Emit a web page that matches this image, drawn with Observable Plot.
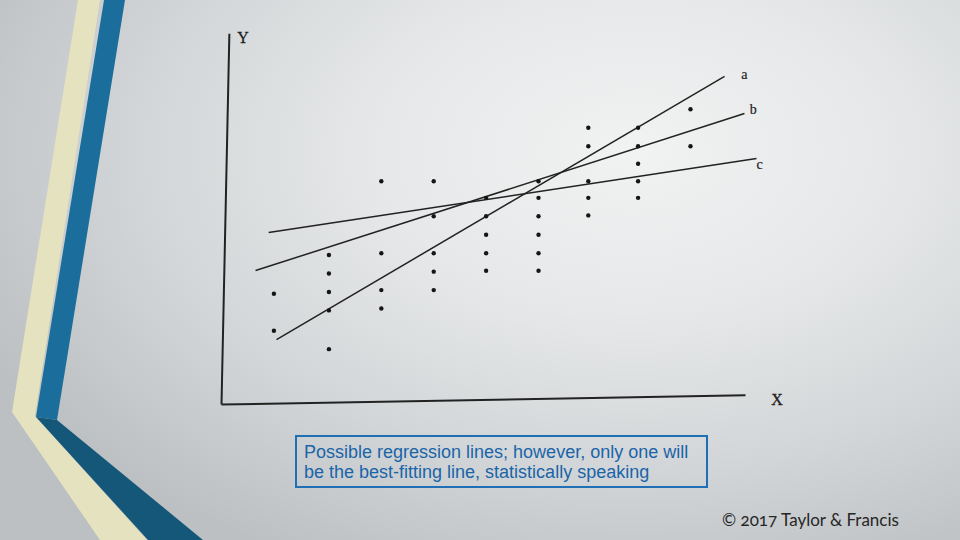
<!DOCTYPE html>
<html>
<head>
<meta charset="utf-8">
<script src="https://cdn.jsdelivr.net/npm/d3@7"></script>
<script src="https://cdn.jsdelivr.net/npm/@observablehq/plot@0.6"></script>
<style>
  html, body { margin: 0; padding: 0; }
  body { width: 960px; height: 540px; overflow: hidden; position: relative;
    background: radial-gradient(ellipse 75% 85% at 66% 28%, #f1f2f2 0%, #e6e8e9 35%, #d2d5d7 70%, #bcc0c2 100%); }
  #deco { position: absolute; left: 0; top: 0; }
  #chart { position: absolute; left: 0; top: 0; }
  #caption { position: absolute; left: 295px; top: 435px; width: 409px; height: 49px;
    border: 2px solid #1e6fb3; box-sizing: content-box; margin: 0;
    font-family: "Liberation Sans", Arial, sans-serif; font-size: 18px; line-height: 20px;
    color: #1a64a8; padding: 0; }
  #caption div { position: absolute; left: 7px; white-space: nowrap; }
  #copy { position: absolute; left: 722px; top: 509px; font-family: Lato, "Open Sans", sans-serif;
    font-size: 17px; color: #262626; font-variant-numeric: oldstyle-nums; white-space: nowrap; }
</style>
</head>
<body>
<svg id="deco" width="960" height="540">
  <polygon points="78,0 100,0 35,416 147,540 100,540 12,412" fill="#e5e3bf"/>
  <polygon points="104,0 125,0 57,420 36,417" fill="#1b6e9b"/>
  <polygon points="36,417 57,420 203,540 148,540" fill="#145779"/>
</svg>
<div id="chart"></div>
<div id="caption">
  <div style="top:5px">Possible regression lines; however, only one will</div>
  <div style="top:25px">be the best-fitting line, statistically speaking</div>
</div>
<div id="copy">© 2017 Taylor &amp; Francis</div>
<script>
// Scatter points: x column positions and y values
const colX = [1.0, 2.05, 3.05, 4.05, 5.05, 6.05, 7.0, 7.95, 8.95];
const colY = [
  [6.0, 4.0],
  [8.1, 7.1, 6.1, 5.1, 3.0],
  [12.1, 8.2, 6.2, 5.2],
  [12.1, 10.2, 8.2, 7.2, 6.2],
  [11.2, 10.2, 9.2, 8.2, 7.25],
  [12.1, 11.2, 10.2, 9.2, 8.2, 7.25],
  [15.0, 14.0, 12.1, 11.2, 10.25],
  [15.0, 14.0, 13.05, 12.1, 11.2],
  [16.0, 14.0]
];
// Candidate regression lines a, b, c (start and end points)
const lineNames = ["a", "b", "c"];
const lineX1 = [1.05, 0.65, 0.9];
const lineY1 = [3.52, 7.26, 9.32];
const lineX2 = [9.6, 9.98, 10.21];
const lineY2 = [17.78, 15.77, 13.33];
const labelX = [9.98, 10.15, 10.27];
const labelY = [17.9, 16.0, 13.0];
// Axes (hand-drawn, slightly tilted) and axis titles
const axisX1 = [0, 0];
const axisY1 = [0, 0];
const axisX2 = [0.15, 10.0];
const axisY2 = [20.1, 0.5];
const axisTitles = ["Y", "X"];
const axisTitleX = [0.41, 10.6];
const axisTitleY = [19.85, 0.27];

const points = colX.flatMap((x, i) => colY[i].map(y => ({x, y})));
const lines = lineNames.map((n, i) => ({n, x1: lineX1[i], y1: lineY1[i], x2: lineX2[i], y2: lineY2[i], lx: labelX[i], ly: labelY[i]}));
const axes = axisX1.map((x1, i) => ({x1, y1: axisY1[i], x2: axisX2[i], y2: axisY2[i], t: axisTitles[i], tx: axisTitleX[i], ty: axisTitleY[i]}));

const chart = Plot.plot({
  width: 960,
  height: 540,
  style: {background: "transparent", overflow: "visible"},
  x: {domain: [0, 10], range: [221, 745], axis: null},
  y: {domain: [0, 20], range: [404, 35], axis: null},
  marks: [
    Plot.link(axes, {x1: "x1", y1: "y1", x2: "x2", y2: "y2", stroke: "#222", strokeWidth: 2}),
    Plot.text(axes, {x: "tx", y: "ty", text: "t", fontFamily: "Liberation Serif, serif", fontSize: 16, fill: "#1e1e1e", stroke: "#1e1e1e", strokeWidth: 0.3}),
    Plot.link(lines, {x1: "x1", y1: "y1", x2: "x2", y2: "y2", stroke: "#222", strokeWidth: 1.5}),
    Plot.text(lines, {x: "lx", y: "ly", text: "n", fontFamily: "Liberation Serif, serif", fontSize: 14, fill: "#222", stroke: "#222", strokeWidth: 0.2}),
    Plot.dot(points, {x: "x", y: "y", r: 2.2, fill: "#151515"})
  ]
});
document.getElementById("chart").appendChild(chart);
</script>
</body>
</html>
